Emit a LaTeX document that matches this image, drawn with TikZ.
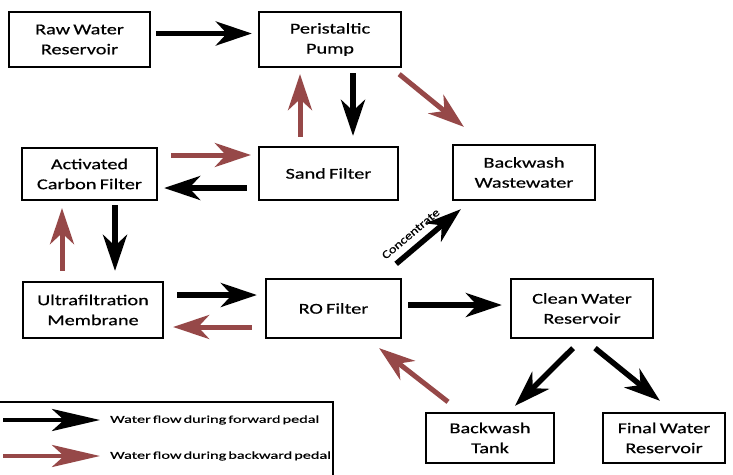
\documentclass[tikz,border=0pt]{standalone}
\usepackage{fontspec}
\setmainfont{Carlito}
\newfontfamily\boxfont{Carlito}[FakeStretch=1.35, FakeBold=0.5, WordSpace=0.7]
\newfontfamily\legfont{Carlito}[FakeStretch=1.55, FakeBold=0.5, WordSpace=0.55]
\newfontfamily\concfont{Carlito}[FakeStretch=1.25, FakeBold=0.5]
\usetikzlibrary{arrows.meta,calc}
\definecolor{bwd}{RGB}{150,72,72}
\tikzset{
  box/.style={draw=black, line width=2.3pt, fill=white, align=center, inner sep=0pt,
              font=\boxfont\fontsize{15}{20}\selectfont},
  fwd/.style={line width=5.5pt, draw=black, -{Stealth[length=36pt,width=24pt,inset=11pt]}},
  bwdarrow/.style={line width=5pt, draw=bwd, -{Stealth[length=36pt,width=24pt,inset=11pt]}},
  legtext/.style={anchor=west, inner sep=0pt, font=\legfont\fontsize{10.5}{12}\selectfont},
}
\begin{document}
\begin{tikzpicture}[x=1pt,y=-1pt]
\useasboundingbox (0,0) rectangle (733,474);
% nodes
\node[box, minimum width=141pt, minimum height=55pt] (raw) at (79.5,39.5) {Raw Water\\Reservoir};
\node[box, minimum width=142pt, minimum height=55pt] (pump) at (330,39.5) {Peristaltic\\Pump};
\node[box, minimum width=135pt, minimum height=52pt] (acf) at (89.5,174) {Activated\\Carbon Filter};
\node[box, minimum width=139pt, minimum height=53pt] (sand) at (328.5,173.5) {Sand Filter};
\node[box, minimum width=142pt, minimum height=55pt] (bww) at (524,172.5) {Backwash\\Wastewater};
\node[box, minimum width=140pt, minimum height=56pt] (uf) at (93,310) {Ultrafiltration\\Membrane};
\node[box, minimum width=135pt, minimum height=59pt] (ro) at (333.5,308.5) {RO Filter};
\node[box, minimum width=142pt, minimum height=59pt] (clean) at (582,308.5) {Clean Water\\Reservoir};
\node[box, minimum width=128pt, minimum height=50pt] (btank) at (490,438) {Backwash\\Tank};
\node[box, minimum width=122pt, minimum height=50pt] (final) at (664,438) {Final Water\\Reservoir};
% arrows
\draw[fwd] ($(raw.east)+(5,-6)$) -- ($(pump.west)+(-6,-6)$);
\draw[fwd] ($(pump.south)+(23,5)$) -- ($(sand.north)+(24.5,-10)$);
\draw[bwdarrow] ($(sand.north)+(-28.5,-9)$) -- ($(pump.south)+(-30,6)$);
\draw[bwdarrow] ($(pump.south east)+(-3,6)$) -- ($(bww.north west)+(12,-17)$);
\draw[bwdarrow] ($(acf.east)+(13,-19)$) -- ($(sand.west)+(-7,-18.5)$);
\draw[fwd] ($(sand.west)+(-11,14.5)$) -- ($(acf.east)+(6,14)$);
\draw[fwd] ($(acf.south)+(25.5,4)$) -- ($(uf.north)+(22,-10)$);
\draw[bwdarrow] ($(uf.north)+(-31,-10)$) -- ($(acf.south)+(-27.5,7)$);
\draw[fwd] ($(uf.east)+(13,-15)$) -- ($(ro.west)+(-8,-13.5)$);
\draw[bwdarrow] ($(ro.west)+(-13,18.5)$) -- ($(uf.east)+(9,17)$);
\draw[fwd] ($(ro.north east)+(-6,-14)$) -- node[pos=0.36, above=7pt, sloped, inner sep=0pt, font=\concfont\fontsize{11.5}{12}\selectfont] {Concentrate} ($(bww.south west)+(9,8)$);
\draw[fwd] ($(ro.east)+(6,-3.5)$) -- ($(clean.west)+(-8,-3.5)$);
\draw[fwd] ($(clean.south)+(-9,9)$) -- ($(btank.north)+(25,-6)$);
\draw[fwd] ($(clean.south)+(13,9)$) -- ($(final.north)+(-4,-11)$);
\draw[bwdarrow] ($(btank.north)+(-42,-10)$) -- ($(ro.south east)+(-23,9)$);
% legend
\draw[line width=1.2pt] (-2,402) -- (333,402) -- (333,480);
\coordinate (l1a) at (3,420);
\coordinate (l1b) at (100,420);
\coordinate (l2a) at (3,456);
\coordinate (l2b) at (100,456);
\draw[line width=4.5pt, -{Stealth[length=48pt,width=22pt,inset=12pt]}] (l1a) -- (l1b);
\draw[line width=4.5pt, draw=bwd, -{Stealth[length=48pt,width=22pt,inset=12pt]}] (l2a) -- (l2b);
\node[legtext] (t1) at (110,420) {Water flow during forward pedal};
\node[legtext] (t2) at (110,456) {Water flow during backward pedal};
\end{tikzpicture}
\end{document}
